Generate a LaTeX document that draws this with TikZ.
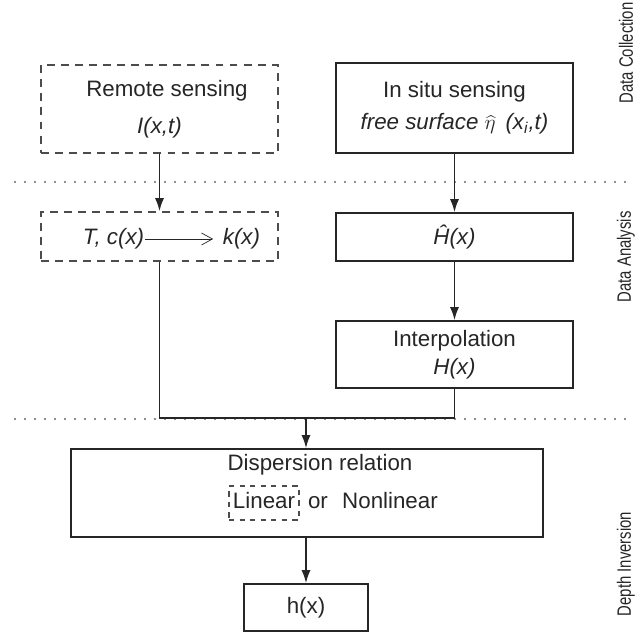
\documentclass[tikz,border=0pt]{standalone}
\usepackage{fontspec}
\setsansfont{Liberation Sans}
\usetikzlibrary{arrows.meta}
\newcommand{\narrowtext}[1]{\scalebox{0.77}[1]{#1}}

\begin{document}
\begin{tikzpicture}[>={Latex[length=2.6mm,width=1.8mm]},font=\sffamily,line width=1pt,draw=black!85,
    box/.style={draw=black!85,line width=0.85pt,inner sep=0pt,align=center,text=black!85,
        font=\sffamily\fontsize{12.7}{15}\selectfont},
    dbox/.style={box,draw=black!70,dash pattern=on 4.5pt off 3.5pt},
    lbl/.style={inner sep=0pt,text=black!85,text height=9pt,text depth=3pt,
        font=\sffamily\fontsize{12.7}{15}\selectfont},
    stage/.style={rotate=90,inner sep=0pt,text=black!85,font=\sffamily\fontsize{11}{13}\selectfont},
    sep/.style={black!60,line width=1.3pt,line cap=round,dash pattern=on 0pt off 5.69pt}]
    \useasboundingbox (0,0) rectangle (12.86,12.68);

    % stage separators
    \draw [sep] (0.3,9.04) -- (12.64,9.04);
    \draw [sep] (0.3,4.30) -- (12.64,4.30);

    \node [dbox,minimum width=4.74cm,minimum height=1.76cm] (remote) at (3.19,10.50)
        {\hspace*{0.3cm}Remote sensing\\[6pt]\textit{I(x,t)}};
    \node [box,minimum width=4.74cm,minimum height=1.80cm] (insitu) at (9.09,10.52)
        {In situ sensing\\[3pt]\textit{free surface}\;{\large$\widehat{\eta}$}\;\,\textit{(x\textsubscript{i},t)}};

    \node [dbox,minimum width=4.74cm,minimum height=0.98cm] (tcbox) at (3.19,7.95) {};
    \node [lbl,anchor=east] (tc) at (2.90,7.90) {\textit{T, c(x)}};
    \node [lbl,anchor=west] (kx) at (4.44,7.90) {\textit{k(x)}};
    \draw [-{Straight Barb[length=2.2mm,width=2.4mm]},thin,shorten >=5pt] (tc) -- (kx);

    \node [box,minimum width=4.74cm,minimum height=0.96cm] (hhat) at (9.09,7.94) {\textit{Ĥ(x)}};
    \node [box,minimum width=4.74cm,minimum height=1.34cm] (interp) at (9.09,5.59)
        {Interpolation\\[1pt]\textit{H(x)}};

    \node [box,minimum width=9.44cm,minimum height=1.76cm] (disp) at (6.14,2.82) {};
    \node [lbl] (dtitle) at (6.40,3.38) {Dispersion relation};
    \node [lbl,draw=black!70,dash pattern=on 3pt off 3pt,minimum width=1.40cm,minimum height=0.68cm]
        (lin) at (5.28,2.62) {Linear};
    \node [lbl] (or) at (6.36,2.62) {or};
    \node [lbl] (nonlin) at (7.80,2.62) {Nonlinear};

    \node [box,minimum width=2.48cm,minimum height=0.94cm] (hx) at (6.12,0.53) {h(x)};

    \node [stage] (collect) at (12.52,11.62) {\narrowtext{Data Collection}};
    \node [stage] (analysis) at (12.52,7.54) {\narrowtext{Data Analysis}};
    \node [stage] (inversion) at (12.52,1.40) {\narrowtext{Depth Inversion}};

    \draw [->] (remote) -- (tcbox);
    \draw [->] (insitu) -- (hhat);
    \draw [->] (hhat) -- (interp);
    \coordinate (merge) at (6.12,4.32);
    \draw (tcbox.south) |- (merge) -| (interp.south);
    \draw [->] (merge) -- (merge |- disp.north);
    \draw [->] (disp.south -| hx.north) -- (hx);
\end{tikzpicture}
\end{document}
